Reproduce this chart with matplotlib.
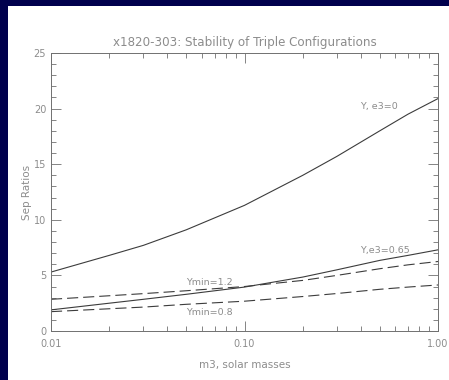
import numpy as np
import matplotlib
matplotlib.use("Agg")
import matplotlib.pyplot as plt
from matplotlib.ticker import FixedLocator, FixedFormatter, MultipleLocator, NullFormatter

# values
m3 = [0.01, 0.02, 0.03, 0.05, 0.1, 0.2, 0.3, 0.5, 0.7, 1.0]
y_e0 = [5.3, 6.8, 7.7, 9.1, 11.3, 14.0, 15.7, 18.0, 19.5, 20.9]
y_e65 = [1.9, 2.5, 2.85, 3.3, 3.95, 4.85, 5.5, 6.35, 6.8, 7.3]
ymin_12 = [2.85, 3.17, 3.36, 3.62, 4.0, 4.55, 5.0, 5.6, 5.95, 6.25]
ymin_08 = [1.74, 2.0, 2.15, 2.4, 2.68, 3.1, 3.37, 3.75, 3.95, 4.14]

x_major = [0.01, 0.1, 1.0]
x_major_labels = ["0.01", "0.10", "1.00"]

navy = "#00004d"
txt = "#8c8c8c"
axc = "#707070"
linec = "#3c3c3c"
fs = 7.5

fig = plt.figure(figsize=(4.49, 3.8), dpi=100, facecolor=navy)
# white page inside the navy frame
page = plt.Rectangle((8 / 449, 0), 1, 1 - 6 / 380, transform=fig.transFigure,
                     facecolor="white", edgecolor="none", zorder=-10)
fig.patches.append(page)

ax = fig.add_axes([51 / 449, 1 - 331 / 380, (438 - 51) / 449, (331 - 53) / 380])
ax.set_facecolor("white")

ax.plot(m3, y_e0, color=linec, lw=0.8)
ax.plot(m3, y_e65, color=linec, lw=0.8)
ax.plot(m3, ymin_12, color=linec, lw=0.8, dashes=(10, 4.5))
ax.plot(m3, ymin_08, color=linec, lw=0.8, dashes=(10, 4.5))

ax.set_xscale("log")
ax.set_xlim(0.01, 1.0)
ax.set_ylim(0, 25)

ax.xaxis.set_major_locator(FixedLocator(x_major))
ax.xaxis.set_major_formatter(FixedFormatter(x_major_labels))
minors = [k * 10.0 ** e for e in (-2, -1) for k in range(2, 10)]
ax.xaxis.set_minor_locator(FixedLocator(minors))
ax.xaxis.set_minor_formatter(NullFormatter())
ax.yaxis.set_major_locator(MultipleLocator(5))
ax.yaxis.set_minor_locator(MultipleLocator(1))

ax.tick_params(which="both", direction="in", top=True, right=True, colors=axc,
               labelcolor=txt, labelsize=7, width=0.6)
ax.tick_params(which="major", length=7)
ax.tick_params(which="minor", length=3.5)
ax.tick_params(axis="x", which="major", pad=6)
for s in ax.spines.values():
    s.set_color(axc)
    s.set_linewidth(0.7)

ax.set_title("x1820-303: Stability of Triple Configurations", fontsize=8.6,
             color=txt, pad=5)
ax.set_xlabel("m3, solar masses", fontsize=fs, color=txt, labelpad=8)
ax.set_ylabel("Sep Ratios", fontsize=fs, color=txt, labelpad=1)

lfs = 6.8
ax.text(0.395, 20.2, "Y, e3=0", fontsize=lfs, color=txt, va="center")
ax.text(0.395, 7.2, "Y,e3=0.65", fontsize=lfs, color=txt, va="center")
ax.text(0.05, 4.4, "Ymin=1.2", fontsize=lfs, color=txt, va="center")
ax.text(0.05, 1.7, "Ymin=0.8", fontsize=lfs, color=txt, va="center")

fig.savefig("out.png", dpi=100, facecolor=navy)
